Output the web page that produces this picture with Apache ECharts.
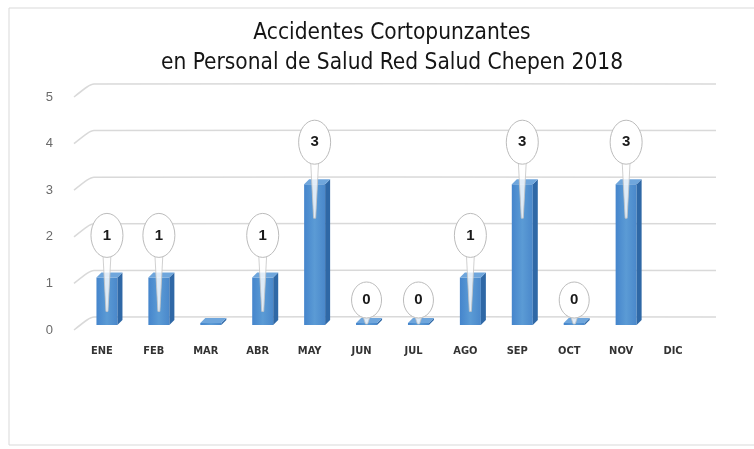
<!DOCTYPE html>
<html>
<head>
<meta charset="utf-8">
<script src="https://cdn.jsdelivr.net/npm/echarts@6/dist/echarts.min.js"></script>
<style>
  html, body { margin: 0; padding: 0; background: #fff; }
  #chart { width: 754px; height: 449px; }
</style>
</head>
<body>
<div id="chart"></div>
<script>
// datos del grafico
const months = ['ENE', 'FEB', 'MAR', 'ABR', 'MAY', 'JUN', 'JUL', 'AGO', 'SEP', 'OCT', 'NOV', 'DIC'];
const cases = [1, 1, 0, 1, 3, 0, 0, 1, 3, 0, 3, null];
const labelShown = [true, true, false, true, true, true, true, true, true, true, true, false];
const yTicks = [0, 1, 2, 3, 4, 5];
const titleLines = ['Accidentes Cortopunzantes', 'en Personal de Salud Red Salud Chepen 2018'];

const chart = echarts.init(document.getElementById('chart'));

// profundidad del efecto 3D
const DX = 5, DY = 5, FRONT = 7;

function renderWall(params, api) {
  const cs = params.coordSys;
  const y = api.coord([0, api.value(1)])[1];
  return {
    type: 'polyline',
    shape: {
      points: [[cs.x - 7, y + 13], [cs.x + 6, y + 3], [cs.x + 13, y], [cs.x + cs.width + 12, y]],
      smooth: 0.2
    },
    style: { fill: null, stroke: '#d9d9d9', lineWidth: 1.5 },
    silent: true
  };
}

function renderBar(params, api) {
  const v = api.value(1);
  if (isNaN(v)) return null;
  const idx = api.value(0);
  const base = api.coord([idx, 0]);
  const top = api.coord([idx, v]);
  const w = 21;
  const x0 = base[0] - w / 2;
  const y1 = base[1] + FRONT + 1;
  const y0 = v > 0 ? top[1] + FRONT : y1 - 2;
  return {
    type: 'group',
    children: [
      {
        type: 'rect',
        shape: { x: x0, y: y0, width: w, height: y1 - y0 },
        style: {
          fill: new echarts.graphic.LinearGradient(0, 0, 1, 0, [
            { offset: 0, color: '#4585cc' },
            { offset: 0.5, color: '#5b9bd5' },
            { offset: 1, color: '#4a88cb' }
          ])
        }
      },
      {
        type: 'polygon',
        shape: { points: [[x0 + w, y0], [x0 + w + DX, y0 - DY], [x0 + w + DX, y1 - DY], [x0 + w, y1]] },
        style: { fill: '#2f68a6' }
      },
      {
        type: 'polygon',
        shape: { points: [[x0, y0], [x0 + DX, y0 - DY], [x0 + w + DX, y0 - DY], [x0 + w, y0]] },
        style: { fill: '#6fa6dc' }
      }
    ]
  };
}

function renderCallout(params, api) {
  const v = api.value(1);
  const idx = api.value(0);
  const base = api.coord([idx, 0]);
  const top = api.coord([idx, v]);
  const cx = base[0];
  const barTop = top[1] + FRONT;
  const rx = v > 0 ? 16 : 15;
  const ry = v > 0 ? 22 : 18;
  const cy = barTop - (v > 0 ? 42 : 24);
  const tip = Math.min(barTop + 34, base[1] + FRONT);
  return {
    type: 'group',
    children: [
      {
        type: 'polygon',
        shape: { points: [[cx - 4, cy + ry - 3], [cx + 4, cy + ry - 3], [cx + 1, tip], [cx - 1, tip]] },
        style: { fill: 'rgba(255,255,255,0.8)', stroke: '#c4c4c4', lineWidth: 0.8 }
      },
      {
        type: 'ellipse',
        shape: { cx: cx, cy: cy, rx: rx, ry: ry },
        style: { fill: '#fff', stroke: '#bcbcbc', lineWidth: 1 }
      },
      {
        type: 'text',
        x: cx,
        y: cy,
        style: {
          text: String(v),
          fill: '#1a1a1a',
          font: 'bold 15px "Liberation Sans", sans-serif',
          align: 'center',
          verticalAlign: 'middle'
        }
      }
    ]
  };
}

const titleStyle = {
  fontFamily: '"Liberation Sans Narrow", "DejaVu Sans Condensed", sans-serif',
  fontSize: 22.5,
  fontWeight: 'normal',
  color: '#151515'
};

const option = {
  backgroundColor: '#fff',
  animation: false,
  title: titleLines.map((t, i) => ({
    text: t,
    left: 392,
    textAlign: 'center',
    top: 22 + i * 30,
    padding: 0,
    textStyle: titleStyle
  })),
  graphic: [{
    type: 'rect',
    shape: { x: 9, y: 8, width: 760, height: 437 },
    style: { fill: null, stroke: '#d9d9d9', lineWidth: 1 },
    silent: true,
    z: -1
  }],
  grid: { left: 81, right: 50, top: 84, bottom: 132 },
  xAxis: {
    type: 'category',
    data: months,
    axisLine: { show: false },
    axisTick: { show: false },
    axisLabel: {
      margin: 29,
      fontFamily: '"DejaVu Sans Condensed", "Liberation Sans", sans-serif',
      fontSize: 11,
      fontWeight: 'bold',
      color: '#333',
      padding: [0, 10, 0, 0]
    }
  },
  yAxis: {
    type: 'value',
    min: 0,
    max: 5,
    interval: 1,
    splitLine: { show: false },
    axisLine: { show: false },
    axisTick: { show: false },
    axisLabel: {
      margin: 28,
      fontFamily: '"Liberation Sans", sans-serif',
      fontSize: 13,
      color: '#6b6b6b',
      verticalAlign: 'top',
      lineHeight: 26
    }
  },
  series: [
    {
      type: 'custom',
      name: 'pared',
      renderItem: renderWall,
      data: yTicks.map(t => [0, t]),
      silent: true,
      z: 1
    },
    {
      type: 'custom',
      name: 'Accidentes',
      renderItem: renderBar,
      data: months.map((m, i) => [i, cases[i] === null ? NaN : cases[i]]),
      z: 2
    },
    {
      type: 'custom',
      name: 'etiquetas',
      renderItem: renderCallout,
      data: months.map((m, i) => [i, cases[i]]).filter((d, i) => labelShown[i]),
      z: 3
    }
  ]
};

chart.setOption(option);
</script>
</body>
</html>
